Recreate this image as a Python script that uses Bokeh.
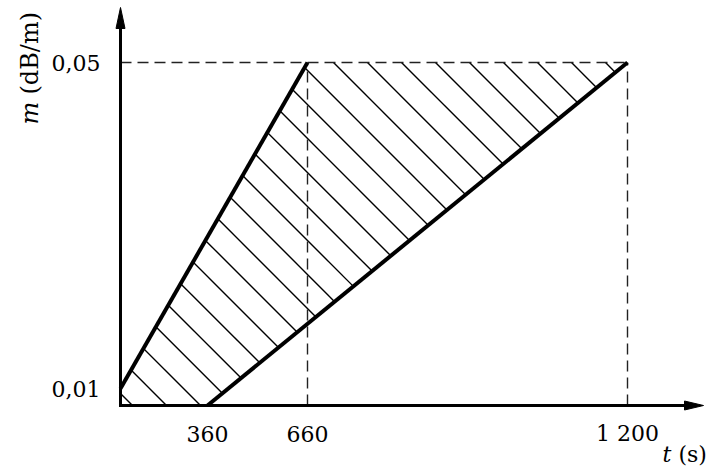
import numpy as np
from bokeh.plotting import figure
from bokeh.models import Range1d
from bokeh.core.properties import value
from bokeh.embed import file_html
from bokeh.resources import INLINE

# ---- data -------------------------------------------------------------
# times (s) marked on the t axis
t_ticks = [360, 660, 1200]
t_tick_labels = ["360", "660", "1 200"]
# attenuation coefficients (dB/m) marked on the m axis
m_ticks = [0.01, 0.05]
m_tick_labels = ["0,01", "0,05"]

# steep boundary: 0,01 dB/m at t = 0 rising to 0,05 dB/m at 660 s
upper_t = [0, 660]
upper_m = [0.01, 0.05]
# shallow boundary: leaves the t axis at 360 s, reaches 0,05 dB/m at 1 200 s
lower_t = [360, 1200]
lower_m_top = 0.05

# ---- schematic scales -------------------------------------------------
# the t axis is drawn schematically (not to scale): piecewise-linear
# placement of the marked times along the axis, in pixels from the origin
T_ANCHORS = [0, 360, 660, 1200]
T_ANCHOR_POS = [0, 87, 187, 507]
X0_PX, Y0_PX = 120, 405                 # canvas position of the origin
M_PER_PX = (0.05 - 0.01) / 326          # m axis: linear
M_ORIGIN = 0.01 - 17 * M_PER_PX         # m value where the axes cross

W, H = 714, 468


def tx(t):
    return np.interp(t, T_ANCHORS, T_ANCHOR_POS)


def sx(px):
    """canvas x -> plot x"""
    return px - X0_PX


def sy(py):
    """canvas y -> plot y"""
    return M_ORIGIN + (Y0_PX - py) * M_PER_PX


def mv(m):
    """m value -> pixels above the origin"""
    return (np.asarray(m) - M_ORIGIN) / M_PER_PX


# the drawing area spans the whole canvas; the axes are drawn as glyphs
p = figure(width=W, height=H, output_backend="svg", toolbar_location=None,
           x_range=Range1d(sx(0), sx(W)), y_range=Range1d(sy(H), sy(0)),
           x_axis_location=None, y_axis_location=None,
           min_border=0)
p.outline_line_color = None
p.grid.visible = False
p.background_fill_color = "white"
p.border_fill_color = "white"

FONT = "DejaVu Serif"

# ---- hatching of the region between the two boundaries -----------------
poly = [
    (float(tx(upper_t[0])), float(mv(upper_m[0]))),
    (float(tx(upper_t[1])), float(mv(upper_m[1]))),
    (float(tx(lower_t[1])), float(mv(lower_m_top))),
    (float(tx(lower_t[0])), 0.0),
    (float(tx(0)), 0.0),
]


def clip_line(c):
    """intersection of the line u + v = c with the convex polygon"""
    pts = []
    n = len(poly)
    for i in range(n):
        (u1, v1), (u2, v2) = poly[i], poly[(i + 1) % n]
        f1, f2 = u1 + v1 - c, u2 + v2 - c
        if f1 == f2:
            continue
        s = f1 / (f1 - f2)
        if 0 <= s <= 1:
            pts.append((u1 + s * (u2 - u1), v1 + s * (v2 - v1)))
    if len(pts) < 2:
        return None
    pts.sort()
    return pts[0], pts[-1]


HATCH_STEP, HATCH_PHASE = 34, 12
hx, hy = [], []
for k in range(0, 40):
    seg = clip_line(HATCH_PHASE + HATCH_STEP * k)
    if seg is None:
        continue
    (u1, v1), (u2, v2) = seg
    if abs(u2 - u1) < 1:
        continue
    hx.append([u1, u2])
    hy.append([M_ORIGIN + v1 * M_PER_PX, M_ORIGIN + v2 * M_PER_PX])
p.multi_line(hx, hy, line_color="black", line_width=1.4)

# ---- dashed reference lines -------------------------------------------
dash = dict(line_color="#222222", line_width=1.4, line_dash="11 6")
p.line([tx(0), tx(1200)], [0.05, 0.05], **dash)
for t in (660, 1200):
    p.line([tx(t), tx(t)], [M_ORIGIN, 0.05], **dash)

# ---- boundaries ---------------------------------------------------------
p.line(list(tx(upper_t)), upper_m, line_color="black", line_width=4)
p.line(list(tx(lower_t)), [M_ORIGIN, lower_m_top], line_color="black", line_width=4)

# ---- axis lines with arrowheads -----------------------------------------
p.line([sx(120), sx(120), sx(690)], [sy(22), sy(405), sy(405)],
       line_color="black", line_width=3, line_join="miter")
p.patch([sx(703), sx(684), sx(684)], [sy(405), sy(400.5), sy(409.5)],
        fill_color="black", line_color="black", line_width=1)
p.patch([sx(120), sx(115.5), sx(124.5)], [sy(7), sy(28), sy(28)],
        fill_color="black", line_color="black", line_width=1)

# ---- tick labels ----------------------------------------------------------
tick_style = dict(text_font=value(FONT), text_font_size="22px", text_color="black",
                  text_baseline="middle")
p.text(x=list(tx(t_ticks)), y=[sy(433)] * len(t_ticks), text=t_tick_labels,
       text_align="center", **tick_style)
p.text(x=[sx(100)] * len(m_ticks), y=m_ticks, text=m_tick_labels,
       text_align="right", **tick_style)

# ---- axis titles --------------------------------------------------------
m_title = dict(text_font=value(FONT), text_font_size="24px", text_color="black",
               text_baseline="middle", text_align="left")
p.text(x=[sx(29)], y=[sy(124)], text=["m"], angle=np.pi / 2,
       text_font_style="italic", **m_title)
p.text(x=[sx(29)], y=[sy(94)], text=["(dB/m)"], angle=np.pi / 2, **m_title)

t_title = dict(text_font=value(FONT), text_font_size="22px", text_color="black",
               text_baseline="middle", text_align="left")
p.text(x=[sx(662)], y=[sy(454)], text=["t"], text_font_style="italic", **t_title)
p.text(x=[sx(678)], y=[sy(454)], text=["(s)"], **t_title)

open("out.html", "w").write(file_html(p, INLINE))
